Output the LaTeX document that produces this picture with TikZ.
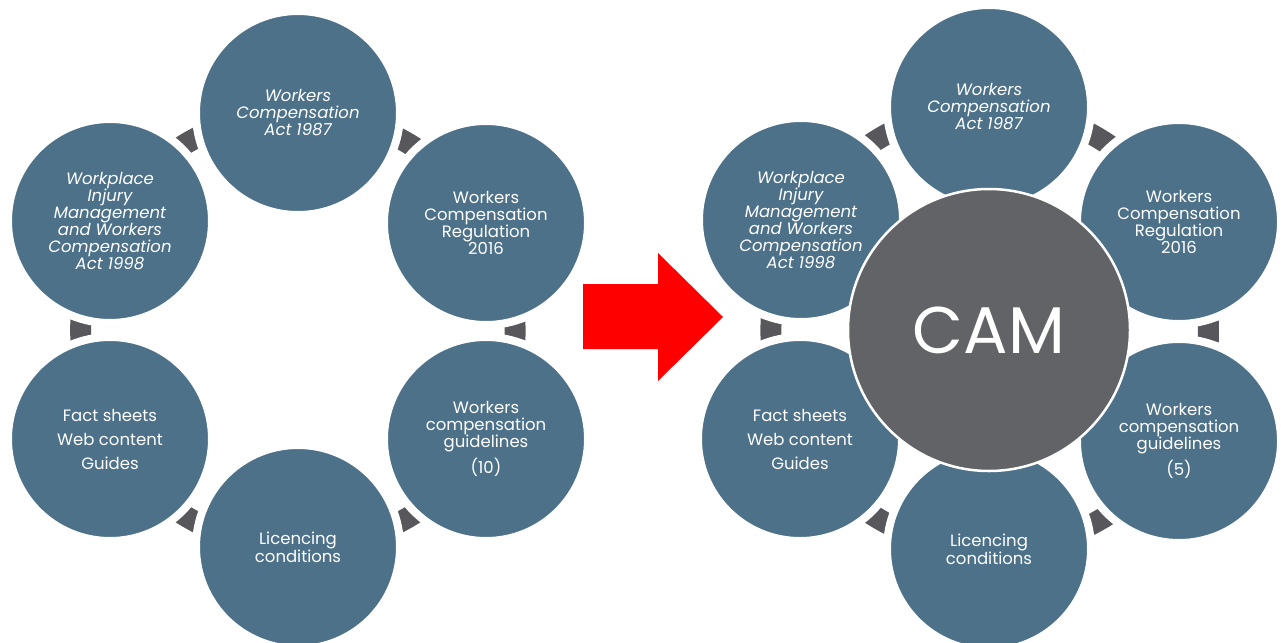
\documentclass[tikz,border=0pt]{standalone}
\usepackage{fontspec}
\setmainfont{Poppins}
\definecolor{cblue}{RGB}{76,113,137}
\definecolor{cgrey}{RGB}{88,88,92}
\definecolor{camgrey}{RGB}{97,99,102}
\definecolor{cred}{RGB}{255,0,0}
\pgfdeclarelayer{bg}
\pgfsetlayers{bg,main}
\begin{document}
\begin{tikzpicture}[x=1pt,y=-1pt,
  bub/.style={circle, fill=cblue, draw=white, line width=8pt, minimum size=204pt,
    inner sep=0pt, text=white, align=center, font=\fontsize{16.5}{17}\selectfont},
  ital/.style={font=\fontsize{16.5}{17}\selectfont\itshape},
  conn/.style={draw=cgrey, line width=21pt, bend left=30, looseness=0.92},
  cam/.style={circle, fill=camgrey, draw=white, line width=2.5pt, minimum size=282pt,
    inner sep=0pt, text=white, font=\fontsize{66}{70}\selectfont},
  bigarrow/.style={fill=cred, draw=none}]
\useasboundingbox (0,0) rectangle (1281,642);
\clip (0,0) rectangle (1281,642);
% ---------- left cluster ----------
\node[bub, ital] (ltop) at (298,113) {Workers\\Compensation\\Act 1987};
\node[bub] (lur) at (486,223) {Workers\\Compensation\\Regulation\\2016};
\node[bub] (llr) at (486,439) {Workers\\compensation\\guidelines\\[5pt](10)};
\node[bub] (lbot) at (298,547) {Licencing\\conditions};
\node[bub] (lll) at (110,439) {Fact sheets\\[7pt]Web content\\[7pt]Guides};
\node[bub, ital] (lul) at (110,221) {Workplace\\Injury\\Management\\and Workers\\Compensation\\Act 1998};
\begin{pgfonlayer}{bg}
\draw[conn] (ltop.center) to (lur.center);
\draw[conn] (lur.center) to (llr.center);
\draw[conn] (llr.center) to (lbot.center);
\draw[conn] (lbot.center) to (lll.center);
\draw[conn] (lll.center) to (lul.center);
\draw[conn] (lul.center) to (ltop.center);
\end{pgfonlayer}
% ---------- arrow ----------
\fill[bigarrow] (583,284) -- (658,284) -- (658,253) -- (723,317) -- (658,381) -- (658,349) -- (583,349) -- cycle;
% ---------- right cluster ----------
\node[bub, ital] (rtop) at (989,107) {Workers\\Compensation\\Act 1987};
\node[bub] (rur) at (1179,222) {Workers\\Compensation\\Regulation\\2016};
\node[bub] (rlr) at (1179,441) {Workers\\compensation\\guidelines\\[5pt](5)};
\node[bub] (rbot) at (989,549) {Licencing\\conditions};
\node[bub] (rll) at (800,439) {Fact sheets\\[7pt]Web content\\[7pt]Guides};
\node[bub, ital] (rul) at (801,220) {Workplace\\Injury\\Management\\and Workers\\Compensation\\Act 1998};
\begin{pgfonlayer}{bg}
\draw[conn] (rtop.center) to (rur.center);
\draw[conn] (rur.center) to (rlr.center);
\draw[conn] (rlr.center) to (rbot.center);
\draw[conn] (rbot.center) to (rll.center);
\draw[conn] (rll.center) to (rul.center);
\draw[conn] (rul.center) to (rtop.center);
\end{pgfonlayer}
\node[cam] (cam) at (989,330) {CAM};
\end{tikzpicture}
\end{document}
